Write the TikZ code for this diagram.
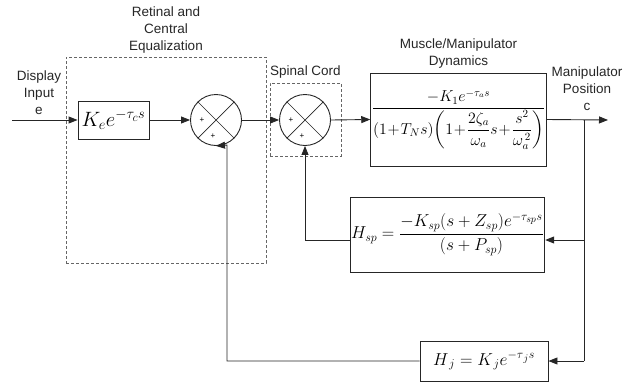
\documentclass[tikz,border=0pt]{standalone}
\usepackage{amsmath}
\usepackage{graphicx}
\usepackage{fontspec}
\newfontfamily\lblfont{Liberation Sans}
\usetikzlibrary{arrows.meta}

\begin{document}
\begin{tikzpicture}[
    x=1pt, y=-1pt,
    >={Triangle[length=9pt, width=7pt]},
    line width=0.9pt,
    % Styles
    block/.style={draw=black!85, fill=white, inner sep=1pt},
    sumnode/.style={draw=black!85, circle, minimum size=51pt, inner sep=0pt},
    dashbox/.style={draw=black!60, dash pattern=on 3pt off 2pt, line width=0.8pt},
    caption/.style={font=\lblfont\fontsize{13.5}{17}\selectfont, align=center, text=black!85},
    plus/.style={font=\lblfont\fontsize{8}{8}\selectfont, inner sep=0pt},
    signal/.style={->, black!85}
]
\useasboundingbox (0,0) rectangle (623,383);

% --- Dashed regions ---
\node[dashbox, minimum width=200pt, minimum height=206pt] (retina) at (166,160) {};
\node[dashbox, minimum width=71pt, minimum height=73pt] (spinal) at (305.5,119.5) {};

% --- Summing junctions ---
\node[sumnode] (sum1) at (216,120) {};
\node[sumnode] (sum2) at (305,120) {};
\foreach \s in {sum1, sum2} {
    \draw[black!85, line width=0.7pt] (\s.north west) -- (\s.south east)
        (\s.north east) -- (\s.south west);
    \node[plus] (\s-pl) at ([xshift=-14pt]\s.center) {+};
    \node[plus] (\s-pb) at ([xshift=-3pt, yshift=-16pt]\s.center) {+};
}

% --- Blocks ---
\node[block, minimum width=71pt, minimum height=38pt, font=\huge] (ke) at (113.5,120) {$K_e e^{-\tau_c s}$};
\node[block, minimum width=175pt, minimum height=93pt, font=\Large] (muscle) at (458.5,119.5)
    {\scalebox{1.1}{$\dfrac{-K_1 e^{-\tau_a s}}{(1\!+\!T_N s)\!\left(1\!+\!\dfrac{2\zeta_a}{\omega_a}s\!+\!\dfrac{s^2}{\omega_a^{\,2}}\right)}$}};
\node[block, minimum width=191pt, minimum height=75pt, font=\LARGE] (hsp) at (447.5,234.5)
    {$H_{sp} = \dfrac{-K_{sp}(s+Z_{sp})e^{-\tau_{sp}s}}{(s+P_{sp})}$};
\node[block, minimum width=128pt, minimum height=40pt, font=\LARGE] (hj) at (484,361)
    {$H_{\,j} = K_{\,j}e^{-\tau_{\,j}s}$};

% --- Labels ---
\node[caption, anchor=south] (retlbl) at (retina.north) {Retinal and\\Central\\Equalization};
\node[caption, anchor=south] (spinlbl) at ([yshift=1pt]spinal.north) {Spinal Cord};
\node[caption, anchor=south] (muslbl) at (muscle.north) {Muscle/Manipulator\\Dynamics};
\node[caption] (inlbl) at (39,93) {Display\\Input\\e};
\node[caption] (outlbl) at (587,89) {Manipulator\\Position\\c};

% --- Signal path ---
\coordinate (inp) at (12,120);
\coordinate (outp) at (608,120);
\coordinate (tap) at (584,120);
\coordinate (tapsp) at (584,240);
\coordinate (tapj) at (584,361);
\coordinate (jturn) at (227,145);

\draw[signal] (inp) -- (ke.west);
\draw[signal] (ke.east) -- (sum1.west);
\draw[signal] (sum1.east) -- (sum2.west);
\draw[signal] (sum2.east) -- (muscle.west);
\draw[signal] (muscle.east) -- (outp);

% --- Feedback loops ---
\draw[black!85] (tap) -- (tapj);
\draw[signal] (tapsp) -- (tapsp -| hsp.east);
\draw[signal] (tapj) -- (hj.east);
\draw[signal] (tapsp -| hsp.west) -| (sum2.south);
\draw[signal] (hj.west) -| (jturn) -- (sum1.south);

\end{tikzpicture}
\end{document}
